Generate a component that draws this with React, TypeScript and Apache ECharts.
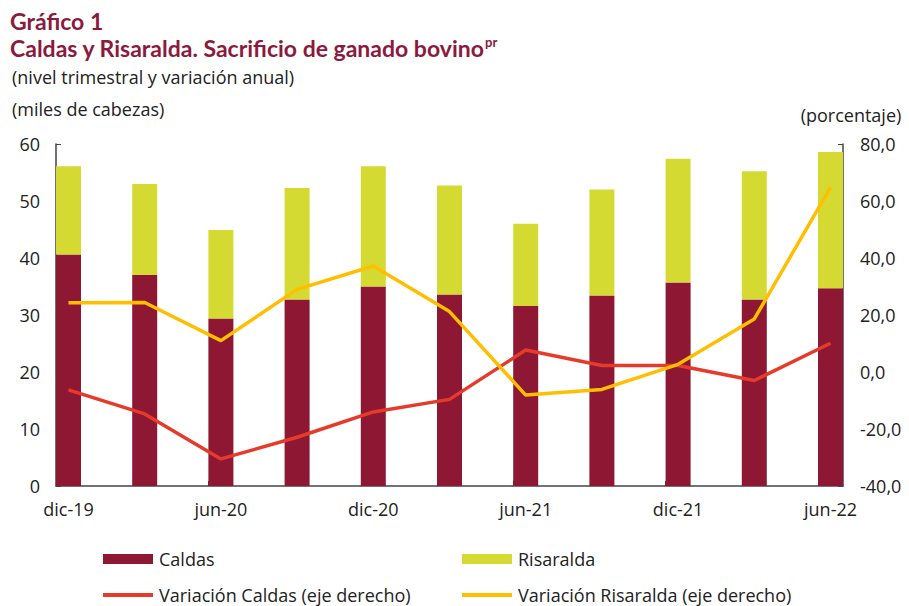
import React, { useEffect, useRef } from "react";
import * as echarts from "echarts";

const categories = ["dic-19", "mar-20", "jun-20", "sep-20", "dic-20", "mar-21", "jun-21", "sep-21", "dic-21", "mar-22", "jun-22"];
const caldas = [40.6, 37.0, 29.4, 32.7, 35.0, 33.6, 31.6, 33.4, 35.7, 32.7, 34.7];
const risaralda = [15.5, 16.0, 15.5, 19.6, 21.1, 19.1, 14.4, 18.6, 21.7, 22.5, 23.9];
const varCaldas = [-6.3, -14.7, -30.5, -22.9, -14.0, -9.6, 7.7, 2.3, 2.3, -3.0, 10.1];
const varRisaralda = [24.3, 24.4, 11.0, 29.0, 37.2, 21.2, -8.1, -6.1, 2.7, 18.6, 64.8];
const leftTicks = [0, 10, 20, 30, 40, 50, 60];
const rightTicks = [-40, -20, 0, 20, 40, 60, 80];
const labelIdx = [0, 2, 4, 6, 8, 10];

const FONT = "Open Sans";
const TITLE_COLOR = "#8B1A3C";
const TEXT_COLOR = "#222";

export default function App() {
  const ref = useRef<HTMLDivElement>(null);
  useEffect(() => {
    if (!ref.current) return;
    const chart = echarts.init(ref.current, undefined, { renderer: "svg" });
    const pad = 0.164;
    // value first, category index second, so that stacking acts on the value dimension
    const stackPts = (arr: number[]) => arr.map((v, i) => [v, i]);
    const pts = (arr: number[]) => arr.map((v, i) => [i, v]);
    const legendBase = (name: string, left: number, top: number, line: boolean) => ({
      data: [name],
      left,
      top,
      orient: "horizontal",
      itemWidth: 50,
      itemHeight: line ? 4 : 10,
      icon: "rect",
      itemGap: 4,
      padding: 0,
      textStyle: { fontFamily: FONT, fontSize: 18, color: TEXT_COLOR, padding: [0, 0, 0, 1] },
      selectedMode: false,
    });
    chart.setOption({
      animation: false,
      backgroundColor: "#ffffff",
      textStyle: { fontFamily: FONT },
      title: [
        {
          text: "Gráfico 1",
          left: 10,
          top: 9,
          padding: 0,
          textStyle: { fontFamily: "Lato", fontWeight: "bold", fontSize: 23, color: TITLE_COLOR },
        },
        {
          text: "{a|Caldas y Risaralda. Sacrificio de ganado bovino}{s|pr}",
          left: 10,
          top: 35,
          padding: 0,
          textStyle: {
            rich: {
              a: { fontFamily: "Lato", fontWeight: "bold", fontSize: 23, color: TITLE_COLOR, lineHeight: 26 },
              s: { fontFamily: "Lato", fontWeight: "bold", fontSize: 13, color: TITLE_COLOR, verticalAlign: "top", lineHeight: 26, padding: [0, 0, 12, 0] },
            },
          },
        },
        {
          text: "(nivel trimestral y variación anual)",
          left: 12,
          top: 68,
          padding: 0,
          textStyle: { fontFamily: FONT, fontWeight: "normal", fontSize: 18, color: TEXT_COLOR },
        },
      ],
      grid: { left: 56, right: 66, top: 144, bottom: 120, containLabel: false, outerBoundsMode: "none" },
      legend: [
        legendBase("Caldas", 103, 550, false),
        legendBase("Risaralda", 462, 550, false),
        legendBase("Variación Caldas (eje derecho)", 103, 586, true),
        legendBase("Variación Risaralda (eje derecho)", 462, 586, true),
      ],
      xAxis: {
        type: "value",
        min: -pad,
        max: categories.length - 1 + pad,
        axisLine: { show: true, onZero: false, lineStyle: { color: "#444", width: 1.5 } },
        splitLine: { show: false },
        axisTick: {
          show: true,
          inside: true,
          length: 5,
          customValues: labelIdx.map((i) => i - pad),
          lineStyle: { color: "#444" },
        },
        axisLabel: {
          customValues: labelIdx,
          formatter: (v: number) => categories[Math.round(v)] ?? "",
          fontFamily: FONT,
          fontSize: 18,
          color: TEXT_COLOR,
          margin: 14,
        },
      },
      yAxis: [
        {
          type: "value",
          min: leftTicks[0],
          max: leftTicks[leftTicks.length - 1],
          interval: 10,
          name: "(miles de cabezas)",
          nameLocation: "end",
          nameGap: 26,
          nameTextStyle: { fontFamily: FONT, fontSize: 18, color: TEXT_COLOR, align: "left", padding: [0, 0, 0, -44] },
          axisLine: { show: true, onZero: false, lineStyle: { color: "#444", width: 1.5 } },
          axisTick: { show: true, inside: true, length: 5, lineStyle: { color: "#444" } },
          splitLine: { show: false },
          axisLabel: { fontFamily: FONT, fontSize: 18, color: TEXT_COLOR, margin: 16 },
        },
        {
          type: "value",
          min: rightTicks[0],
          max: rightTicks[rightTicks.length - 1],
          interval: 20,
          name: "(porcentaje)",
          nameLocation: "end",
          nameGap: 20,
          nameTextStyle: { fontFamily: FONT, fontSize: 18, color: TEXT_COLOR, align: "center", padding: [0, 0, 0, 16] },
          axisLine: { show: true, onZero: false, lineStyle: { color: "#444", width: 1.5 } },
          axisTick: { show: true, inside: true, length: 5, lineStyle: { color: "#444" } },
          splitLine: { show: false },
          axisLabel: {
            fontFamily: FONT,
            fontSize: 18,
            color: TEXT_COLOR,
            margin: 17,
            formatter: (v: number) => v.toFixed(1).replace(".", ","),
          },
        },
      ],
      series: [
        {
          name: "Caldas",
          type: "bar",
          stack: "total",
          barWidth: 25,
          itemStyle: { color: "#8E1733" },
          dimensions: ["value", "idx"],
          encode: { x: "idx", y: "value" },
          data: stackPts(caldas),
        },
        {
          name: "Risaralda",
          type: "bar",
          stack: "total",
          barWidth: 25,
          itemStyle: { color: "#D5DA32" },
          dimensions: ["value", "idx"],
          encode: { x: "idx", y: "value" },
          data: stackPts(risaralda),
        },
        {
          name: "Variación Caldas (eje derecho)",
          type: "line",
          yAxisIndex: 1,
          showSymbol: false,
          symbol: "none",
          lineStyle: { color: "#E63A2A", width: 3.5 },
          itemStyle: { color: "#E63A2A" },
          data: pts(varCaldas),
        },
        {
          name: "Variación Risaralda (eje derecho)",
          type: "line",
          yAxisIndex: 1,
          showSymbol: false,
          symbol: "none",
          lineStyle: { color: "#FFBF00", width: 3.5 },
          itemStyle: { color: "#FFBF00" },
          data: pts(varRisaralda),
        },
      ],
    });
    return () => chart.dispose();
  }, []);
  return <div ref={ref} style={{ position: "fixed", left: 0, top: 0, width: 909, height: 606 }} />;
}
